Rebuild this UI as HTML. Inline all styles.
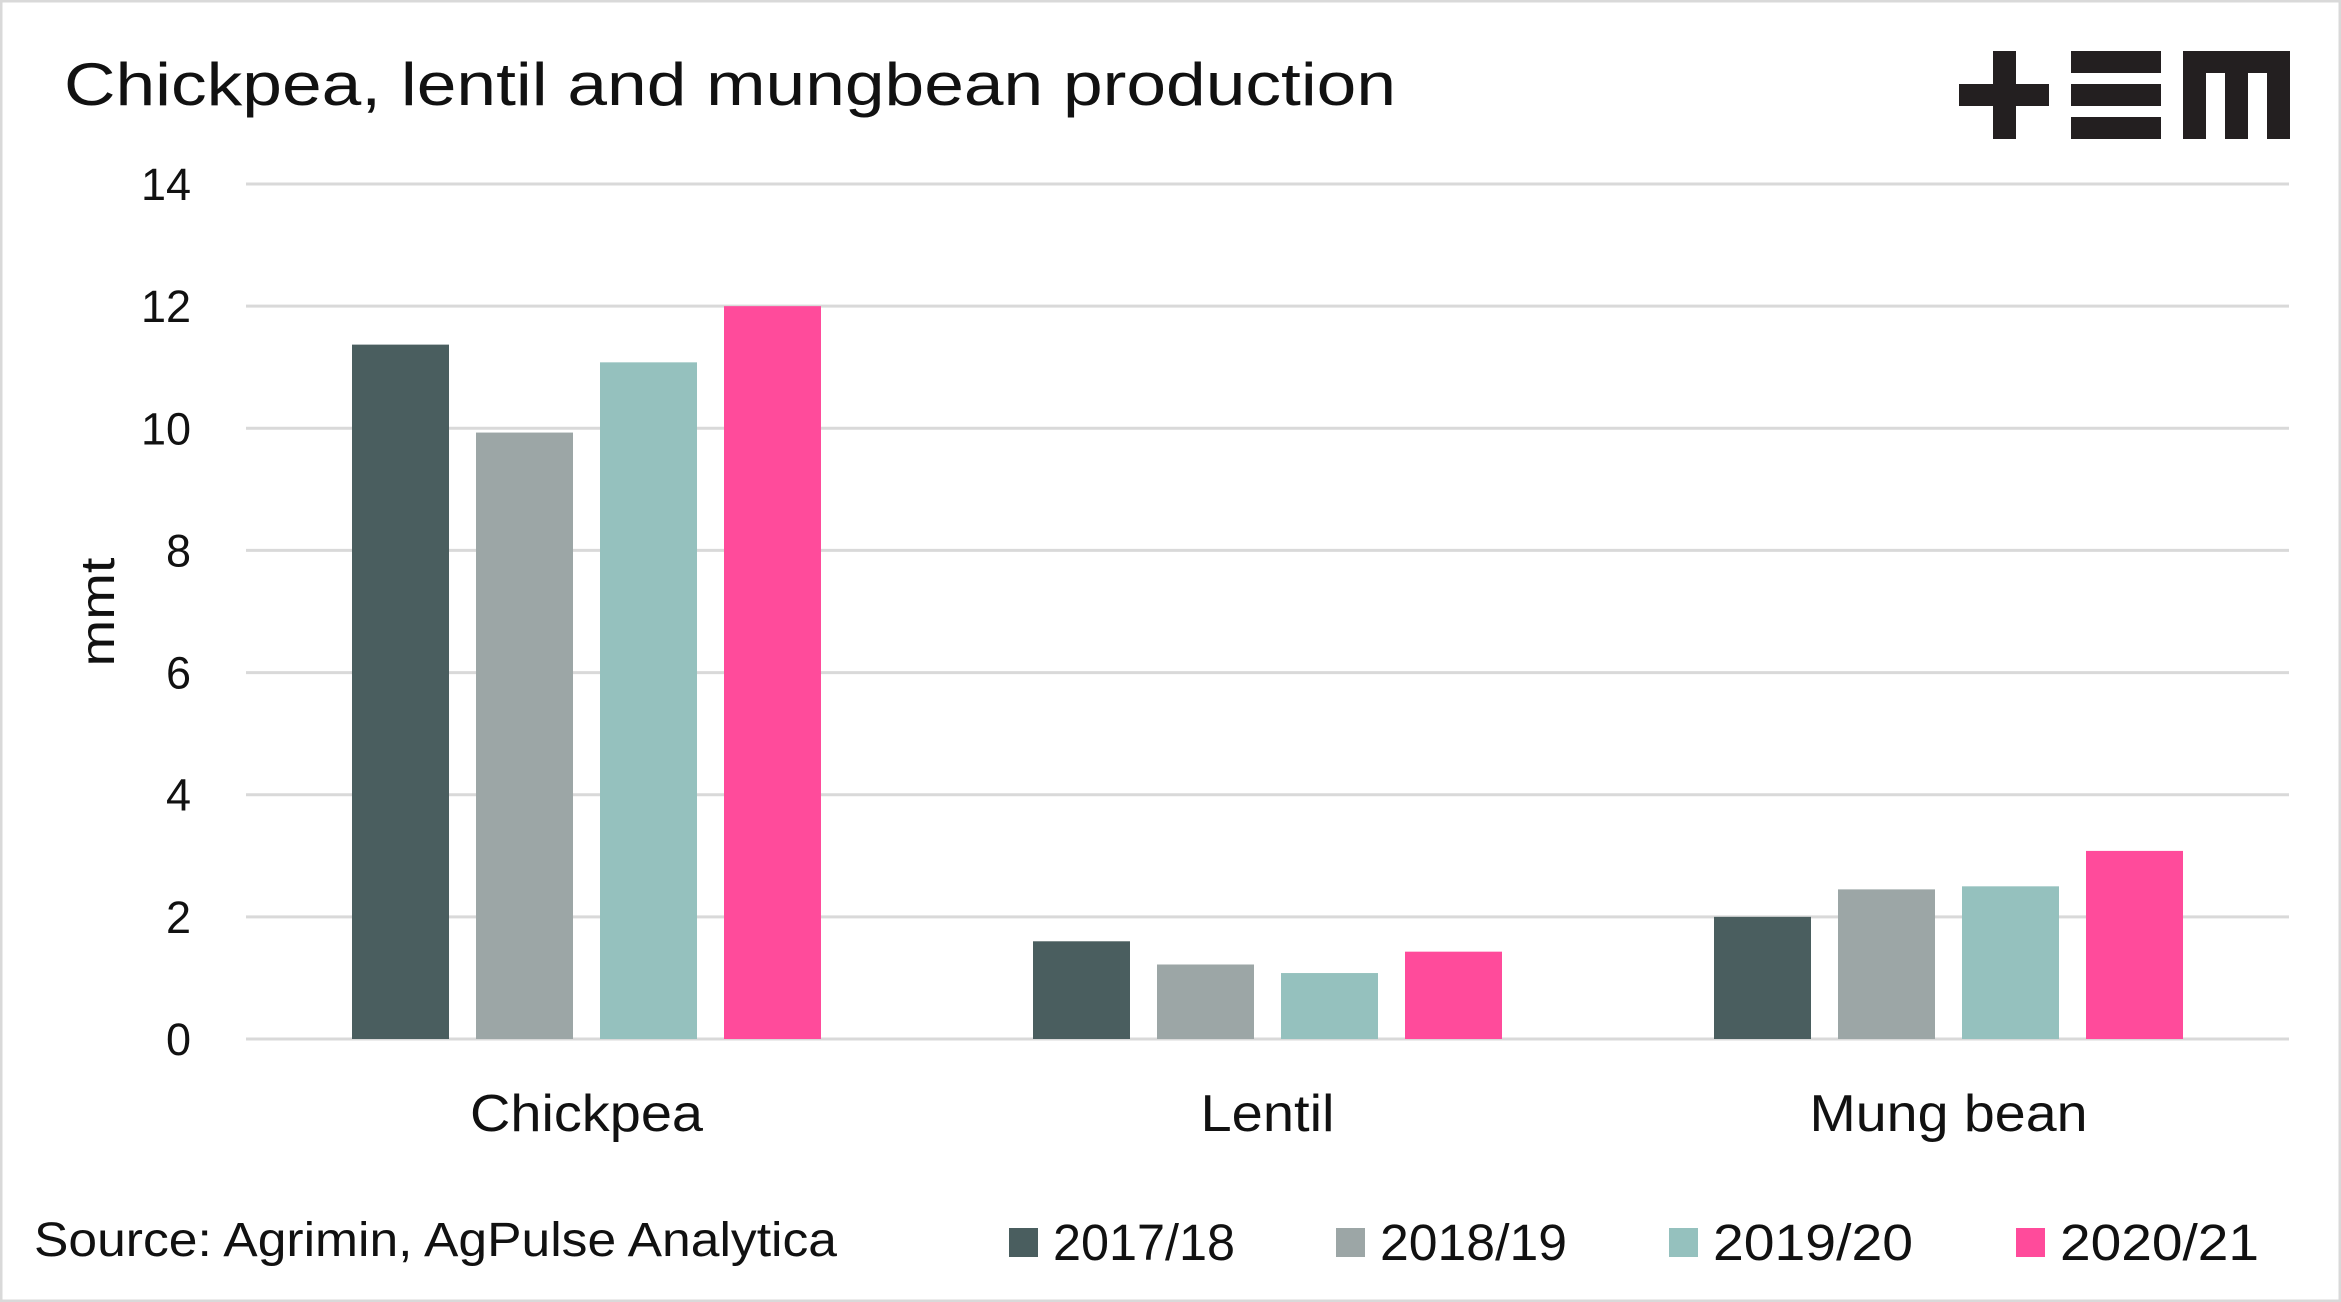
<!DOCTYPE html>
<html><head><meta charset="utf-8"><style>
body{margin:0;background:#fff}
svg{display:block;font-family:"Liberation Sans",sans-serif}
</style></head><body>
<svg id="chart" width="2341" height="1302" viewBox="0 0 2341 1302">
<rect x="1" y="1" width="2339" height="1300" fill="#fff" stroke="#d9d9d9" stroke-width="3"/>
<text x="64" y="105" font-size="60" textLength="1332" lengthAdjust="spacingAndGlyphs" fill="#111">Chickpea, lentil and mungbean production</text>
<g fill="#231f20">
<rect x="1959" y="84" width="90" height="22"/><rect x="1993" y="51" width="23" height="88"/>
<rect x="2071" y="51" width="90" height="22"/><rect x="2071" y="84" width="90" height="22"/><rect x="2071" y="117" width="90" height="22"/>
<rect x="2183" y="51" width="107" height="22"/><rect x="2183" y="51" width="23" height="88"/><rect x="2225" y="51" width="23" height="88"/><rect x="2267" y="51" width="23" height="88"/>
</g>
<g id="grid"></g><g id="bars"></g><g id="labels"></g>
<text transform="translate(114,612) rotate(-90)" text-anchor="middle" font-size="48" textLength="109" lengthAdjust="spacingAndGlyphs" fill="#111">mmt</text>
<text x="34" y="1256" font-size="48" textLength="803" lengthAdjust="spacingAndGlyphs" fill="#111">Source: Agrimin, AgPulse Analytica</text>
<g id="legend"></g>
</svg>
<script>
const categories=["Chickpea","Lentil","Mung bean"];
const seriesNames=["2017/18","2018/19","2019/20","2020/21"];
const s2017=[11.37,1.6,2.0];
const s2018=[9.93,1.22,2.45];
const s2019=[11.08,1.08,2.5];
const s2020=[12.0,1.43,3.08];
const yTicks=[0,2,4,6,8,10,12,14];
const colors=["#4a5e5f","#9ca6a6","#95c1be","#ff4b9b"];
const series=[s2017,s2018,s2019,s2020];
const NS="http://www.w3.org/2000/svg";
const x0=246,x1=2289,yTop=184,yBot=1039,yMax=14;
const y=v=>yBot-(v/yMax)*(yBot-yTop);
const catW=(x1-x0)/categories.length;
const barW=97,step=124;
const catLen=[233,134,278];
const legLen=[182,187,200,199];
function mk(tag,attrs,parent){const e=document.createElementNS(NS,tag);for(const k in attrs)e.setAttribute(k,attrs[k]);parent.appendChild(e);return e;}
const grid=document.getElementById('grid'),bars=document.getElementById('bars'),labels=document.getElementById('labels'),legend=document.getElementById('legend');
yTicks.forEach(t=>{
 const l=mk('line',{x1:x0,x2:x1,y1:y(t),y2:y(t),stroke:'#d9d9d9','stroke-width':3},grid);
 
 
 const tx=mk('text',{x:191,y:y(t)+16,'text-anchor':'end','font-size':45,fill:'#111'},labels);
 tx.textContent=t;
 
 
});
categories.forEach((c,i)=>{
 const cx=x0+catW*(i+0.5);
 series.forEach((s,j)=>{
  const bx=cx-(step*1.5)-barW/2+j*step;
  const r=mk('rect',{x:bx,y:y(s[i]),width:barW,height:yBot-y(s[i]),fill:colors[j]},bars);
  
  
 });
 const t=mk('text',{x:cx,y:1131,'text-anchor':'middle','font-size':52,textLength:catLen[i],lengthAdjust:'spacingAndGlyphs',fill:'#111'},labels);
 t.textContent=c;
 
 
});
const legSq=[1009,1336,1669,2016];
seriesNames.forEach((n,j)=>{
 const g=mk('g',{},legend);
 
 
 mk('rect',{x:legSq[j],y:1228,width:29,height:29,fill:colors[j]},g);
 const t=mk('text',{x:legSq[j]+44,y:1260,'font-size':51,textLength:legLen[j],lengthAdjust:'spacingAndGlyphs',fill:'#111'},g);
 t.textContent=n;
});
</script>
</body></html>
